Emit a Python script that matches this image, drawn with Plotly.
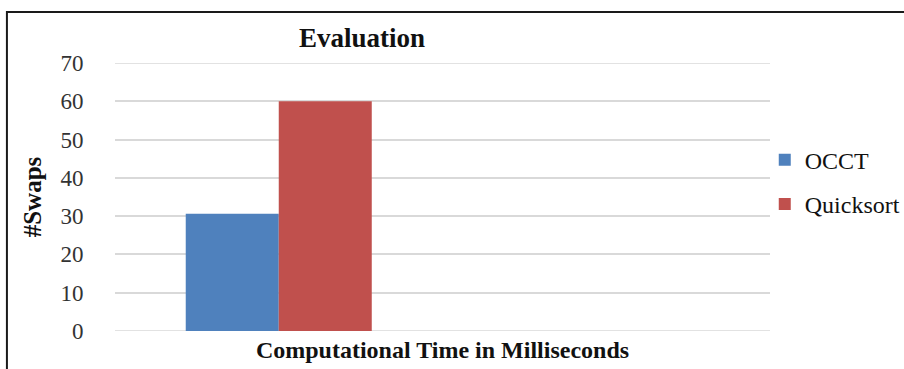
import plotly.graph_objects as go

categories = [0]
series_names = ["OCCT", "Quicksort"]
occt_values = [30.6]
quicksort_values = [60]
y_ticks = [0, 10, 20, 30, 40, 50, 60, 70]

colors = ["#4F81BD", "#C0504D"]
serif = "Liberation Serif, Times New Roman, serif"

fig = go.Figure()
for i, (name, vals) in enumerate(zip(series_names, [occt_values, quicksort_values])):
    fig.add_trace(go.Bar(x=categories, y=vals, name=name, marker_color=colors[i],
                         marker_line_width=0, legendgroup=name))

fig.update_layout(
    width=904, height=369,
    margin=dict(l=115, r=134, t=63, b=38, autoexpand=False),
    paper_bgcolor="white", plot_bgcolor="white",
    barmode="group", bargap=0.432, bargroupgap=0,
    font=dict(family=serif, color="#222222"),
    title=dict(text="<b>Evaluation</b>", x=362 / 904, xanchor="center",
               y=1 - 38 / 369, yanchor="middle",
               font=dict(family=serif, size=27, color="#111111")),
    xaxis=dict(range=[-0.5, 1.5], showticklabels=False, showgrid=False, zeroline=False,
               title=dict(text="<b>Computational Time in Milliseconds</b>", standoff=10,
                          font=dict(family=serif, size=24, color="#111111"))),
    yaxis=dict(range=[0, 70], tickvals=y_ticks, showgrid=True, gridcolor="#D9D9D9", gridwidth=1.5,
               zeroline=False, ticks="outside", ticklen=26, tickcolor="rgba(0,0,0,0)",
               tickfont=dict(family=serif, size=23, color="#333333"),
               title=dict(text="<b>#Swaps</b>", standoff=11,
                          font=dict(family=serif, size=25, color="#111111"))),
    legend=dict(x=0.992, y=0.555, xanchor="left", yanchor="middle",
                traceorder="grouped", tracegroupgap=10, itemwidth=30,
                font=dict(family=serif, size=24, color="#111111"), bgcolor="rgba(0,0,0,0)"),
    showlegend=True,
)
# gridlines at the range edges (0 baseline and 70 top), which Plotly omits
for yv in (y_ticks[0], y_ticks[-1]):
    fig.add_shape(type="line", xref="paper", yref="y", x0=0, x1=1, y0=yv, y1=yv,
                  line=dict(color="#D9D9D9", width=1.5), layer="below")
# chart frame (left and top edges)
fig.add_shape(type="path", xref="paper", yref="paper",
              path="M -0.165 -0.3 L -0.165 1.19 L 1.3 1.19",
              line=dict(color="#1a1a1a", width=2))

fig.write_html("out.html", config={"displayModeBar": False},
               post_script="document.body.style.margin='0';document.body.style.overflow='hidden';")
